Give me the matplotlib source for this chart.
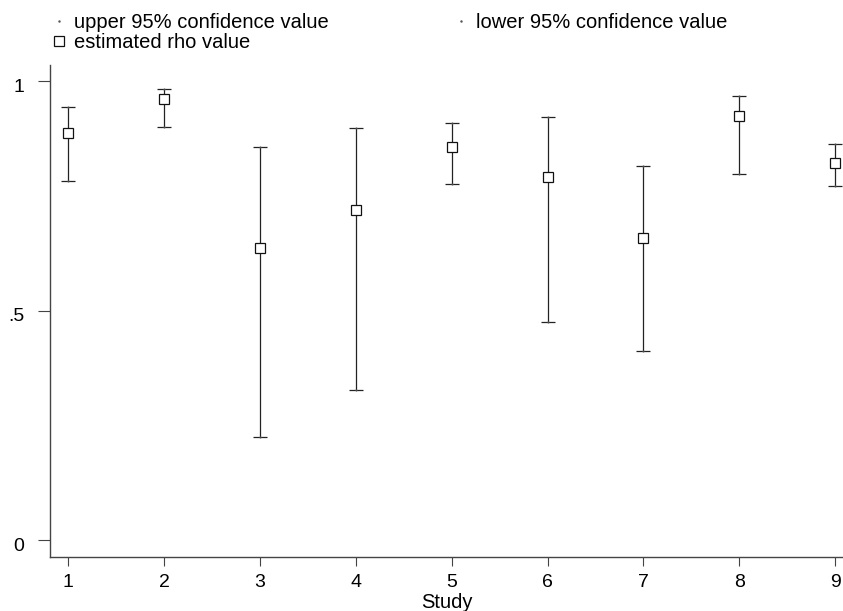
import numpy as np
import matplotlib
matplotlib.use('Agg')
import matplotlib.pyplot as plt
from matplotlib.lines import Line2D
from matplotlib.transforms import ScaledTranslation

plt.rcParams['font.family'] = ['Liberation Sans', 'DejaVu Sans']

# values
study = [1, 2, 3, 4, 5, 6, 7, 8, 9]
rho = [0.887, 0.960, 0.637, 0.719, 0.857, 0.792, 0.659, 0.924, 0.822]
upper = [0.943, 0.983, 0.856, 0.898, 0.908, 0.922, 0.815, 0.968, 0.862]
lower = [0.783, 0.899, 0.225, 0.326, 0.776, 0.474, 0.411, 0.798, 0.772]
yticks = [0, 0.5, 1]
ytick_labels = ['0', '.5', '1']

W, H = 843, 611
fig = plt.figure(figsize=(W / 100, H / 100), dpi=100)
ax = fig.add_axes([50 / W, 54 / H, 793 / W, 492 / H])

x = np.array(study)
rho = np.array(rho)
upper = np.array(upper)
lower = np.array(lower)

ax.errorbar(x, rho, yerr=[rho - lower, upper - rho], fmt='none',
            ecolor='#222', elinewidth=0.9, capsize=5, capthick=0.9)
ax.plot(x, upper, ls='none', marker='.', ms=1, color='#555')
ax.plot(x, lower, ls='none', marker='.', ms=1, color='#555')
ax.plot(x, rho, ls='none', marker='s', ms=7, mfc='white', mec='#111', mew=0.9)

ax.set_xlim(0.809, 9.083)
ax.set_ylim(-0.037, 1.035)
ax.set_xticks(study)
ax.set_yticks(yticks)
ax.set_yticklabels(ytick_labels)

for s in ('top', 'right'):
    ax.spines[s].set_visible(False)
for s in ('left', 'bottom'):
    ax.spines[s].set_color('#444')
    ax.spines[s].set_linewidth(1.0)

ax.tick_params(axis='y', length=8.5, width=0.8, color='#444', pad=10, labelsize=14)
ax.tick_params(axis='x', length=6.5, width=0.8, color='#444', pad=6, labelsize=14)
# stata puts the y labels a touch below their ticks
off = ScaledTranslation(0, -4 / 100, fig.dpi_scale_trans)
for lab in ax.get_yticklabels():
    lab.set_transform(lab.get_transform() + off)

ax.set_xlabel('Study', fontsize=14.5, labelpad=1)

handles = [
    Line2D([], [], ls='none', marker='.', ms=1.5, color='#555'),
    Line2D([], [], ls='none', marker='s', ms=7, mfc='white', mec='#111', mew=0.9),
    Line2D([], [], ls='none', marker='.', ms=1.5, color='#555'),
]
labels = ['upper 95% confidence value', 'estimated rho value',
          'lower 95% confidence value']
fig.legend(handles, labels, ncol=2, loc='upper left',
           bbox_to_anchor=(53 / W, 1 - 13 / H), frameon=False,
           fontsize=14.5, borderpad=0, borderaxespad=0,
           handlelength=0.6, handletextpad=0.45, columnspacing=6.25,
           labelspacing=0.05)

fig.savefig('out.png', dpi=100)
